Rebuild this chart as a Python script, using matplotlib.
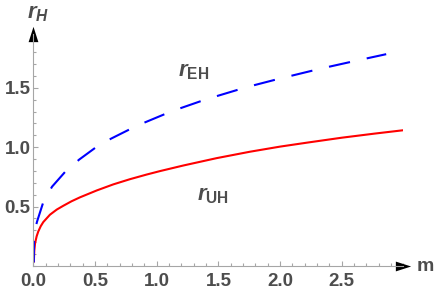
import numpy as np
import matplotlib
matplotlib.use('Agg')
import matplotlib.pyplot as plt
from matplotlib.ticker import MultipleLocator

plt.rcParams['font.family'] = ['Liberation Sans', 'DejaVu Sans']
plt.rcParams['mathtext.fontset'] = 'custom'
plt.rcParams['mathtext.it'] = 'Liberation Sans:italic:bold'
plt.rcParams['mathtext.rm'] = 'Liberation Sans:bold'
plt.rcParams['lines.scale_dashes'] = False

# values
m_uh = [0.004, 0.008, 0.014, 0.027, 0.04, 0.06, 0.081, 0.135, 0.19, 0.243, 0.31, 0.378,
        0.514, 0.648, 0.784, 0.919, 1.027, 1.216, 1.486, 1.756, 2.0, 2.229, 2.5, 2.77, 3.0]
r_uh = [0.03, 0.13, 0.19, 0.25, 0.29, 0.335, 0.37, 0.432, 0.475, 0.507, 0.545, 0.578,
        0.636, 0.687, 0.731, 0.77, 0.799, 0.846, 0.908, 0.962, 1.005, 1.04, 1.08, 1.115, 1.143]

m_eh = [0.004, 0.006, 0.012, 0.02, 0.03, 0.081, 0.152, 0.26, 0.372, 0.506, 0.63, 0.78,
        0.905, 1.06, 1.2, 1.35, 1.49, 1.65, 1.79, 1.95, 2.09, 2.26, 2.4, 2.56, 2.7, 2.86]
r_eh = [0.03, 0.23, 0.29, 0.33, 0.373, 0.538, 0.668, 0.795, 0.896, 0.998, 1.072, 1.15,
        1.209, 1.276, 1.331, 1.385, 1.431, 1.481, 1.522, 1.565, 1.601, 1.644, 1.678, 1.715,
        1.747, 1.783]

xticks = [0.0, 0.5, 1.0, 1.5, 2.0, 2.5]
yticks = [0.5, 1.0, 1.5]

axis_col = '#a6a6a6'
text_col = '#4d4d4d'

fig = plt.figure(figsize=(4.36, 2.94), dpi=100)
ax = fig.add_axes([0.0764, 0.0952, 0.849, 0.788])

ax.plot(m_uh, r_uh, color='#ff0000', lw=1.5, solid_capstyle='butt')
ax.plot(m_eh, r_eh, color='#0000ff', lw=1.5, dashes=(15.5, 12.3), dash_capstyle='butt')

ax.set_xlim(0, 3.0)
ax.set_ylim(0, 1.95)
for s in ['top', 'right']:
    ax.spines[s].set_visible(False)
for s in ['left', 'bottom']:
    ax.spines[s].set_color(axis_col)
    ax.spines[s].set_linewidth(0.8)

ax.set_xticks(xticks)
ax.set_xticklabels([f"{v:.1f}" for v in xticks])
ax.set_yticks(yticks)
ax.set_yticklabels([f"{v:.1f}" for v in yticks])
ax.xaxis.set_minor_locator(MultipleLocator(0.1))
ax.yaxis.set_minor_locator(MultipleLocator(0.1))
ax.tick_params(which='both', direction='in', color=axis_col, width=0.8,
               labelsize=13.5, labelcolor=text_col)
ax.tick_params(which='major', length=3.8)
ax.tick_params(which='minor', length=2.2)
ax.tick_params(axis='x', pad=5)
ax.tick_params(axis='y', pad=2)
for lab in ax.get_xticklabels() + ax.get_yticklabels():
    lab.set_fontweight('bold')

# arrow heads at the axis ends
arrow = [(-0.5, -0.32), (0.5, 0.0), (-0.5, 0.32), (-0.5, -0.32)]
ax.plot([1], [0], marker=arrow, ms=11, color='black', mec='none',
        transform=ax.transAxes, clip_on=False)
arrow_up = [(-0.32, -0.5), (0.0, 0.5), (0.32, -0.5), (-0.32, -0.5)]
ax.plot([0], [1], marker=arrow_up, ms=11, color='black', mec='none',
        transform=ax.transAxes, clip_on=False)

ax.text(1.058, -0.004, 'm', transform=ax.transAxes, ha='center', va='center',
        fontsize=14, fontweight='bold', color=text_col)
ax.text(-0.017, 1.07, r'$r_H$', transform=ax.transAxes, ha='left', va='baseline',
        fontsize=16, color=text_col)
ax.text(1.173, 1.60, r'$r_{\mathrm{EH}}$', ha='left', va='baseline',
        fontsize=16, color=text_col)
ax.text(1.325, 0.556, r'$r_{\mathrm{UH}}$', ha='left', va='baseline',
        fontsize=16, color=text_col)

fig.savefig('out.png', dpi=100)
